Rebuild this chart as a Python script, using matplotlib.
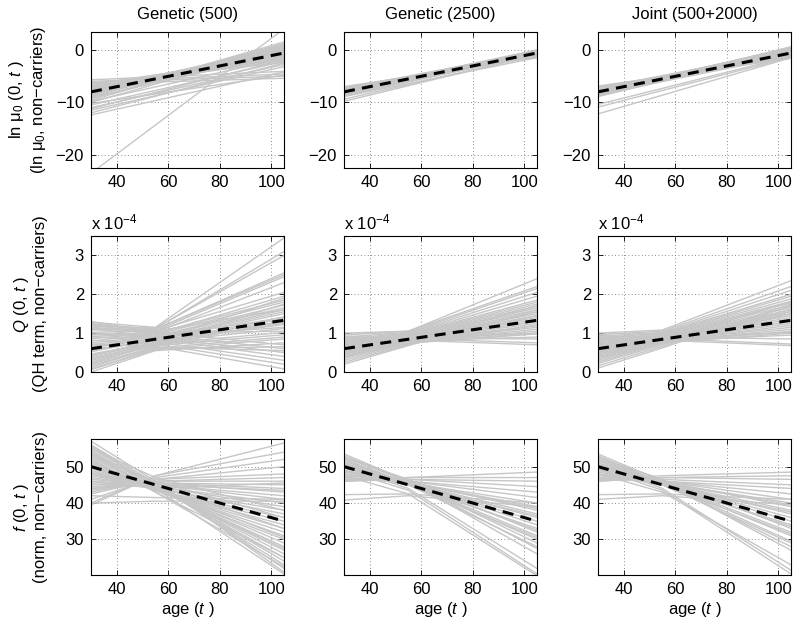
import numpy as np
import matplotlib
matplotlib.use('Agg')
import matplotlib.pyplot as plt

plt.rcParams['font.family'] = ['Liberation Sans', 'DejaVu Sans']
plt.rcParams['mathtext.fontset'] = 'custom'
plt.rcParams['mathtext.rm'] = 'Liberation Sans'
plt.rcParams['mathtext.it'] = 'Liberation Sans:italic'
plt.rcParams['font.size'] = 12

# ages where the sampled curves are given
ages_lin = [30, 105]        # ln mu_0 row (straight lines)
ages_knot = [30, 55, 105]   # Q and f rows

# true (dashed) curves
true_lnmu = [-8.0, -0.6]
true_q = [0.6, 1.33]      # x 10^-4
true_f = [50.0, 35.0]

col_titles = ['Genetic (500)', 'Genetic (2500)', 'Joint (500+2000)']

# ---- row 1: ln mu_0, values at age 30 and 105
lnmu_g500 = [
    [-6.4, -2.4], [-6.8, -1.8], [-7.0, -1.5], [-7.2, -1.2], [-7.4, -0.9], [-7.6, -0.6],
    [-7.8, -0.3], [-8.0, 0.0], [-8.2, 0.3], [-8.4, 0.6], [-8.6, 0.9], [-8.8, 1.2],
    [-9.0, 1.5], [-7.1, -0.4], [-7.5, 0.2], [-7.9, -1.0], [-8.3, -0.5], [-8.7, 0.1],
    [-9.3, 0.8], [-6.9, -0.9], [-7.7, 0.5], [-8.1, -1.4], [-9.6, 1.0], [-10.0, 0.4],
    [-6.6, -1.1], [-7.3, -2.0], [-8.5, -0.2], [-9.1, -0.7],
    [-5.7, -4.1], [-6.0, -4.6], [-6.2, -5.0], [-6.5, -5.4], [-10.5, -2.2], [-11.0, -2.8],
    [-11.5, -3.2], [-12.0, -2.5], [-12.4, -4.2], [-9.8, -1.6], [-10.2, -4.8], [-11.2, -1.9],
    [-23.5, 4.0],
]
lnmu_g2500 = [
    [-7.0, -1.4], [-7.2, -1.2], [-7.3, -1.0], [-7.4, -0.8], [-7.5, -0.6], [-7.6, -0.4],
    [-7.7, -0.2], [-7.8, 0.0], [-7.9, -0.9], [-8.0, -0.7], [-8.1, -0.5], [-8.2, -0.3],
    [-8.3, -0.1], [-8.4, -0.6], [-8.5, -0.9], [-8.6, -0.4], [-8.8, -0.8], [-7.35, -0.3],
    [-7.65, -1.1], [-7.95, -0.2], [-8.25, -1.0], [-8.55, -0.7], [-8.9, -1.5],
    [-9.4, -1.0], [-9.8, -0.9],
]
lnmu_joint = [
    [-6.9, -1.6], [-7.1, -1.3], [-7.2, -1.0], [-7.4, -0.8], [-7.5, -0.5], [-7.6, -0.3],
    [-7.7, 0.0], [-7.8, 0.3], [-7.9, -0.9], [-8.0, -0.6], [-8.1, 0.5], [-8.2, -0.2],
    [-8.3, 0.2], [-8.4, -0.5], [-8.5, -1.1], [-8.6, 0.6], [-8.8, -0.4], [-8.9, 0.1],
    [-7.3, -0.1], [-7.65, -1.2], [-7.95, 0.4], [-8.25, -0.7], [-8.65, -0.2],
    [-10.4, -1.2], [-10.9, -1.4], [-12.2, -1.5],
]

# ---- row 2: Q (x 10^-4), values at age 30, 55, 105
q_g500 = [
    [1.28, 1.15, 3.45], [1.22, 1.12, 3.1], [1.18, 1.12, 3.0], [1.12, 1.1, 2.55], [1.08, 1.1, 2.5],
    [1.02, 1.06, 2.45], [0.96, 1.02, 2.3], [1.1, 1.06, 2.05], [0.92, 0.98, 1.95], [0.86, 1.0, 1.85],
    [0.8, 0.96, 1.8], [0.75, 0.92, 1.72], [0.7, 0.9, 1.65], [0.62, 0.86, 1.6], [0.52, 0.85, 1.55],
    [0.42, 0.82, 1.5], [0.32, 0.76, 1.42], [0.22, 0.72, 1.38], [0.12, 0.66, 1.32], [0.66, 0.86, 1.28],
    [0.56, 0.8, 1.22], [0.46, 0.76, 1.12], [0.36, 0.72, 1.02], [0.26, 0.68, 0.96], [0.16, 0.62, 0.9],
    [0.06, 0.58, 0.85], [0.0, 0.55, 0.75], [1.3, 1.02, 0.7], [1.22, 0.96, 0.6], [1.12, 0.9, 0.5],
    [1.02, 0.86, 0.4], [0.92, 0.78, 0.3], [0.82, 0.72, 0.2], [0.72, 0.66, 0.08], [1.16, 1.0, 1.05],
    [0.98, 0.92, 1.15], [0.08, 0.6, 0.65], [0.2, 0.64, 0.55], [0.88, 0.9, 1.4], [0.58, 0.8, 1.9],
    [0.3, 0.7, 1.75], [1.25, 1.05, 1.6], [0.4, 0.76, 1.25],
]
q_g2500 = [
    [1.0, 1.05, 2.4], [0.95, 1.05, 2.2], [0.9, 1.02, 2.15], [0.85, 1.0, 2.05], [0.82, 0.98, 1.95],
    [0.8, 0.97, 1.85], [0.78, 0.95, 1.8], [0.75, 0.93, 1.75], [0.72, 0.92, 1.7], [0.7, 0.9, 1.65],
    [0.68, 0.9, 1.6], [0.65, 0.88, 1.55], [0.62, 0.87, 1.5], [0.6, 0.86, 1.45], [0.58, 0.85, 1.4],
    [0.55, 0.84, 1.35], [0.52, 0.83, 1.3], [0.5, 0.82, 1.25], [0.48, 0.8, 1.2], [0.45, 0.8, 1.15],
    [0.42, 0.78, 1.1], [0.4, 0.78, 1.05], [0.38, 0.76, 1.0], [0.35, 0.74, 0.98], [0.3, 0.72, 1.2],
    [0.25, 0.7, 1.45], [0.2, 0.68, 1.6], [0.88, 0.88, 0.85], [0.92, 0.86, 0.75], [0.85, 0.82, 0.7],
    [0.8, 0.8, 0.9], [0.7, 0.85, 1.0], [0.6, 0.8, 1.7], [0.5, 0.75, 1.55],
]
q_joint = [
    [1.0, 1.08, 2.35], [0.96, 1.05, 2.2], [0.92, 1.02, 2.1], [0.88, 1.0, 2.0], [0.84, 0.98, 1.95],
    [0.8, 0.97, 1.88], [0.78, 0.95, 1.82], [0.75, 0.93, 1.78], [0.72, 0.92, 1.72], [0.7, 0.9, 1.66],
    [0.67, 0.9, 1.6], [0.64, 0.88, 1.56], [0.61, 0.87, 1.5], [0.58, 0.86, 1.45], [0.55, 0.85, 1.4],
    [0.52, 0.84, 1.35], [0.49, 0.83, 1.3], [0.46, 0.82, 1.25], [0.43, 0.8, 1.2], [0.4, 0.8, 1.15],
    [0.37, 0.78, 1.1], [0.34, 0.77, 1.05], [0.3, 0.75, 1.0], [0.26, 0.73, 1.5], [0.22, 0.7, 1.62],
    [0.16, 0.66, 1.7], [0.1, 0.62, 1.75], [0.9, 0.9, 0.85], [0.94, 0.86, 0.72], [0.86, 0.82, 0.68],
    [0.82, 0.8, 0.95], [0.7, 0.84, 1.02], [0.6, 0.82, 1.8], [0.5, 0.78, 1.55],
]

# ---- row 3: f (norm), values at age 30, 55, 105
f_g500 = [
    [57, 46, 21], [56, 45.5, 22], [55.5, 45, 23], [55, 45, 24], [54.5, 44.5, 25], [54, 44.5, 26],
    [53.5, 44, 27], [53, 44, 28], [52.5, 44, 29], [52, 43.5, 30], [51.5, 43.5, 31], [51, 43.5, 32],
    [50.5, 43.5, 33], [50, 43.5, 34], [49.5, 43.5, 35], [49, 43.5, 36], [48.5, 44, 37], [48, 44, 38],
    [47.5, 44.5, 39], [47, 44.5, 40], [46.5, 45, 41], [46, 45, 42], [45.5, 45.5, 43], [45, 45.5, 44],
    [44.5, 45.5, 45], [44, 46, 46], [43.5, 46, 47], [43, 46.5, 48], [42.5, 46.5, 50], [41, 47, 52],
    [40, 47.5, 54], [39.5, 47.5, 56.5], [40, 40.5, 40.5], [42, 41.5, 41], [55, 47, 38], [53, 46, 36],
    [56, 44, 20.5], [54, 43, 22.5], [52, 43, 25], [51, 44, 27.5], [50, 44.5, 30.5], [48, 45, 33],
    [46, 44, 45.5], [44, 45, 43.5],
]
f_g2500 = [
    [53.5, 46, 26], [53, 46, 27.5], [52.5, 46, 29], [52, 45.5, 30], [51.5, 45.5, 31], [51, 45.5, 32.5],
    [50.5, 45.5, 34], [50, 45.5, 35], [49.5, 45.5, 36], [49, 45.5, 37], [48.5, 45.5, 38.5], [48, 45.5, 40],
    [47.5, 46, 41.5], [47, 46, 43], [46.5, 46.5, 44.5], [46, 46.5, 46], [46, 47, 47], [46, 47, 48.5],
    [50, 44, 22], [49, 43.5, 20.5], [47.5, 42.5, 20], [42.3, 42.5, 40], [40.8, 42, 39], [52, 45, 28],
    [51, 45, 30.5], [49, 45, 33], [48, 45, 36.5], [47, 45.5, 39], [52.5, 46.5, 32], [50.5, 46, 38],
]
f_joint = [
    [53.5, 46, 27], [53, 45.5, 28], [52.5, 45.5, 29.5], [52, 45.5, 31], [51.5, 45.5, 32], [51, 45.5, 33.5],
    [50.5, 45.5, 35], [50, 45.5, 36], [49.5, 45.5, 37], [49, 45.5, 38], [48.5, 45.5, 39.5], [48, 46, 41],
    [47.5, 46, 42.5], [47, 46, 44], [46.5, 46.5, 45], [46, 47, 46.5], [46, 47, 47.5], [46.5, 47.5, 48.5],
    [50.5, 44, 21.5], [49.5, 43.5, 20.5], [48, 43, 23], [42.3, 42.5, 41], [41, 42, 39.5], [52, 45, 29],
    [51, 45, 31.5], [49, 45, 34], [48, 45, 37.5], [47, 45.5, 40], [52.5, 46.5, 33], [50.5, 46, 39],
]

row_data = [
    (ages_lin, [lnmu_g500, lnmu_g2500, lnmu_joint], true_lnmu),
    (ages_knot, [q_g500, q_g2500, q_joint], true_q),
    (ages_knot, [f_g500, f_g2500, f_joint], true_f),
]
row_ylim = [(-22.5, 3.4), (0, 3.5), (20.2, 57.6)]
row_yticks = [[-20, -10, 0], [0, 1, 2, 3], [30, 40, 50]]
row_ylabels = [
    'ln μ$_0$ (0, $t$ )\n(ln μ$_0$, non−carriers)',
    '$Q$ (0, $t$ )\n(QH term, non−carriers)',
    '$f$ (0, $t$ )\n(norm, non−carriers)',
]

fig = plt.figure(figsize=(8, 6.28), dpi=100)
lefts = [91, 344, 598]
tops = [32, 236, 439]
W, H = 800.0, 628.0

for r in range(3):
    ages, panels, truth = row_data[r]
    for c in range(3):
        ax = fig.add_axes([lefts[c] / W, 1 - (tops[r] + 136) / H, 193 / W, 136 / H])
        for ln in panels[c]:
            ax.plot(ages, ln, color='#c6c6c6', lw=1.0)
        ax.plot(ages_lin, truth, color='k', lw=2.2, dashes=(3.6, 2.4))
        ax.set_xlim(30, 105)
        ax.set_xticks([40, 60, 80, 100])
        ax.set_ylim(*row_ylim[r])
        ax.set_yticks(row_yticks[r])
        ax.grid(True, linestyle=(0, (1, 3)), color='0.4', linewidth=0.6)
        ax.tick_params(direction='in', top=True, right=True, length=3.5, width=0.6,
                       labelsize=12, pad=5)
        for s in ax.spines.values():
            s.set_linewidth(0.8)
        if r == 0:
            ax.set_title(col_titles[c], fontsize=12, pad=9)
        if r == 1:
            ax.text(0, 1.03, 'x 10$^{-4}$', transform=ax.transAxes, ha='left', va='bottom',
                    fontsize=12)
        if r == 2:
            ax.set_xlabel('age ($t$ )', fontsize=12, labelpad=2)
        if c == 0:
            ax.set_ylabel(row_ylabels[r], fontsize=12, linespacing=1.15)
            ax.yaxis.set_label_coords(-0.225, 0.5)

fig.savefig('out.png', dpi=100)
